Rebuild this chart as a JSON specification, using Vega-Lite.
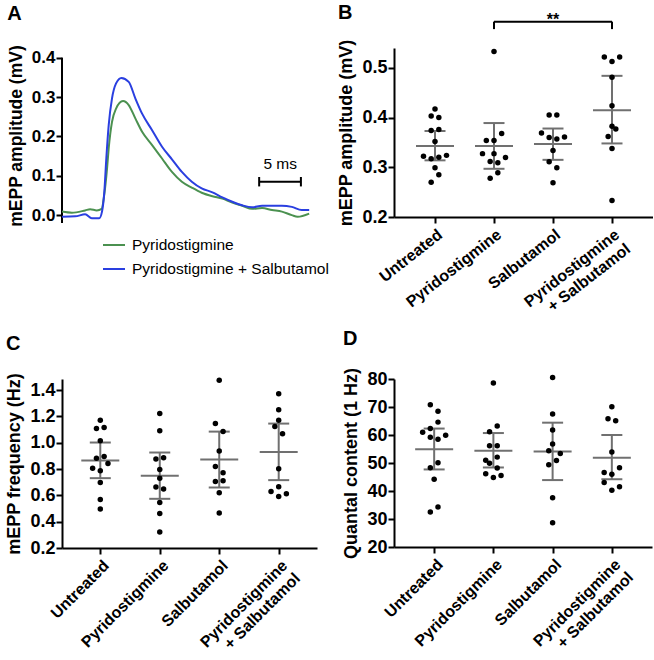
{
  "$schema": "https://vega.github.io/schema/vega-lite/v6.json",
  "padding": {"left": 5, "top": 2, "right": 0, "bottom": 0},
  "config": {
    "font": "Liberation Sans",
    "view": {"stroke": null},
    "axis": {"labelFont": "Liberation Sans", "labelFontWeight": "bold", "labelFontSize": 18, "labelColor": "black", "labelOverlap": false, "titleFont": "Liberation Sans", "titleFontWeight": "bold", "titleFontSize": 18, "titleColor": "black", "domainColor": "black", "domainWidth": 2, "tickColor": "black", "tickWidth": 2, "tickSize": 6, "grid": false, "labelPadding": 1, "titlePadding": 6},
    "title": {"fontSize": 20, "fontWeight": "bold", "anchor": "start", "frame": "bounds", "color": "black", "font": "Liberation Sans"}
  },
  "datasets": {
    "trace": [
      {"series": "Pyridostigmine", "t": 0, "v": 0.009}, {"series": "Pyridostigmine", "t": 1.2, "v": 0.006}, {"series": "Pyridostigmine", "t": 2.8, "v": 0.012}, {"series": "Pyridostigmine", "t": 3.4, "v": 0.015}, {"series": "Pyridostigmine", "t": 4.2, "v": 0.012}, {"series": "Pyridostigmine", "t": 4.8, "v": 0.016}, {"series": "Pyridostigmine", "t": 5.1, "v": 0.05}, {"series": "Pyridostigmine", "t": 5.45, "v": 0.119}, {"series": "Pyridostigmine", "t": 5.65, "v": 0.17}, {"series": "Pyridostigmine", "t": 6.05, "v": 0.237}, {"series": "Pyridostigmine", "t": 6.54, "v": 0.271}, {"series": "Pyridostigmine", "t": 7.38, "v": 0.29}, {"series": "Pyridostigmine", "t": 8.07, "v": 0.28}, {"series": "Pyridostigmine", "t": 8.87, "v": 0.246}, {"series": "Pyridostigmine", "t": 9.69, "v": 0.212}, {"series": "Pyridostigmine", "t": 10.9, "v": 0.178}, {"series": "Pyridostigmine", "t": 12.1, "v": 0.144}, {"series": "Pyridostigmine", "t": 13.3, "v": 0.11}, {"series": "Pyridostigmine", "t": 14.5, "v": 0.085}, {"series": "Pyridostigmine", "t": 15.7, "v": 0.07}, {"series": "Pyridostigmine", "t": 16.9, "v": 0.057}, {"series": "Pyridostigmine", "t": 18.2, "v": 0.048}, {"series": "Pyridostigmine", "t": 19.4, "v": 0.042}, {"series": "Pyridostigmine", "t": 20.6, "v": 0.032}, {"series": "Pyridostigmine", "t": 21.8, "v": 0.024}, {"series": "Pyridostigmine", "t": 23.0, "v": 0.016}, {"series": "Pyridostigmine", "t": 24.2, "v": 0.018}, {"series": "Pyridostigmine", "t": 25.4, "v": 0.013}, {"series": "Pyridostigmine", "t": 26.6, "v": 0.009}, {"series": "Pyridostigmine", "t": 27.8, "v": 0.0}, {"series": "Pyridostigmine", "t": 28.5, "v": -0.004}, {"series": "Pyridostigmine", "t": 29.9, "v": 0.004},
      {"series": "Pyridostigmine + Salbutamol", "t": 0, "v": -0.004}, {"series": "Pyridostigmine + Salbutamol", "t": 1.6, "v": -0.003}, {"series": "Pyridostigmine + Salbutamol", "t": 2.8, "v": 0.002}, {"series": "Pyridostigmine + Salbutamol", "t": 3.6, "v": -0.008}, {"series": "Pyridostigmine + Salbutamol", "t": 4.5, "v": -0.008}, {"series": "Pyridostigmine + Salbutamol", "t": 4.84, "v": 0.009}, {"series": "Pyridostigmine + Salbutamol", "t": 5.12, "v": 0.059}, {"series": "Pyridostigmine + Salbutamol", "t": 5.36, "v": 0.144}, {"series": "Pyridostigmine + Salbutamol", "t": 5.65, "v": 0.229}, {"series": "Pyridostigmine + Salbutamol", "t": 6.05, "v": 0.297}, {"series": "Pyridostigmine + Salbutamol", "t": 6.54, "v": 0.335}, {"series": "Pyridostigmine + Salbutamol", "t": 7.18, "v": 0.349}, {"series": "Pyridostigmine + Salbutamol", "t": 8.07, "v": 0.339}, {"series": "Pyridostigmine + Salbutamol", "t": 8.87, "v": 0.297}, {"series": "Pyridostigmine + Salbutamol", "t": 9.69, "v": 0.258}, {"series": "Pyridostigmine + Salbutamol", "t": 10.9, "v": 0.216}, {"series": "Pyridostigmine + Salbutamol", "t": 12.1, "v": 0.174}, {"series": "Pyridostigmine + Salbutamol", "t": 13.3, "v": 0.142}, {"series": "Pyridostigmine + Salbutamol", "t": 14.5, "v": 0.11}, {"series": "Pyridostigmine + Salbutamol", "t": 15.7, "v": 0.085}, {"series": "Pyridostigmine + Salbutamol", "t": 16.9, "v": 0.068}, {"series": "Pyridostigmine + Salbutamol", "t": 18.2, "v": 0.058}, {"series": "Pyridostigmine + Salbutamol", "t": 19.4, "v": 0.045}, {"series": "Pyridostigmine + Salbutamol", "t": 20.6, "v": 0.034}, {"series": "Pyridostigmine + Salbutamol", "t": 21.8, "v": 0.025}, {"series": "Pyridostigmine + Salbutamol", "t": 23.0, "v": 0.02}, {"series": "Pyridostigmine + Salbutamol", "t": 24.2, "v": 0.024}, {"series": "Pyridostigmine + Salbutamol", "t": 25.4, "v": 0.024}, {"series": "Pyridostigmine + Salbutamol", "t": 26.6, "v": 0.024}, {"series": "Pyridostigmine + Salbutamol", "t": 27.8, "v": 0.021}, {"series": "Pyridostigmine + Salbutamol", "t": 29.0, "v": 0.013}, {"series": "Pyridostigmine + Salbutamol", "t": 29.9, "v": 0.013}
    ],
    "aaxis": [{"t": 0, "lo": -0.02, "hi": 0.4}],
    "scalebar": [{"t1": 23.85, "t2": 28.9, "tm": 26.4, "v": 0.085, "vlo": 0.073, "vhi": 0.097, "vt": 0.131, "label": "5 ms"}],
    "sig": [{"from": "Pyridostigmine", "to": "Pyridostigmine + Salbutamol", "mid": "Salbutamol", "y": 0.593, "y2": 0.578, "ty": 0.587, "label": "**"}],
    "ptsB": [
      {"group": "Untreated", "slot": 0, "value": 0.4175}, {"group": "Untreated", "slot": -0.5, "value": 0.403}, {"group": "Untreated", "slot": 0.5, "value": 0.4}, {"group": "Untreated", "slot": -0.5, "value": 0.374}, {"group": "Untreated", "slot": 0.5, "value": 0.376}, {"group": "Untreated", "slot": 0, "value": 0.352}, {"group": "Untreated", "slot": -1.5, "value": 0.322}, {"group": "Untreated", "slot": -0.5, "value": 0.317}, {"group": "Untreated", "slot": 0.5, "value": 0.32}, {"group": "Untreated", "slot": 1.5, "value": 0.324}, {"group": "Untreated", "slot": 0, "value": 0.299}, {"group": "Untreated", "slot": 0.5, "value": 0.285}, {"group": "Untreated", "slot": -0.5, "value": 0.27},
      {"group": "Pyridostigmine", "slot": 0, "value": 0.533}, {"group": "Pyridostigmine", "slot": 1, "value": 0.368}, {"group": "Pyridostigmine", "slot": -1, "value": 0.354}, {"group": "Pyridostigmine", "slot": 0, "value": 0.354}, {"group": "Pyridostigmine", "slot": -1.5, "value": 0.3275}, {"group": "Pyridostigmine", "slot": 0, "value": 0.3275}, {"group": "Pyridostigmine", "slot": 1.5, "value": 0.3195}, {"group": "Pyridostigmine", "slot": -0.5, "value": 0.3115}, {"group": "Pyridostigmine", "slot": 0.5, "value": 0.309}, {"group": "Pyridostigmine", "slot": 0.5, "value": 0.289}, {"group": "Pyridostigmine", "slot": -0.5, "value": 0.278},
      {"group": "Salbutamol", "slot": -0.5, "value": 0.405}, {"group": "Salbutamol", "slot": 0.5, "value": 0.405}, {"group": "Salbutamol", "slot": -1.5, "value": 0.369}, {"group": "Salbutamol", "slot": -0.5, "value": 0.36}, {"group": "Salbutamol", "slot": 0.5, "value": 0.357}, {"group": "Salbutamol", "slot": 1.5, "value": 0.361}, {"group": "Salbutamol", "slot": 0, "value": 0.334}, {"group": "Salbutamol", "slot": -0.5, "value": 0.311}, {"group": "Salbutamol", "slot": 0.5, "value": 0.299}, {"group": "Salbutamol", "slot": 0, "value": 0.269},
      {"group": "Pyridostigmine + Salbutamol", "slot": -1, "value": 0.522}, {"group": "Pyridostigmine + Salbutamol", "slot": 1, "value": 0.522}, {"group": "Pyridostigmine + Salbutamol", "slot": 0, "value": 0.513}, {"group": "Pyridostigmine + Salbutamol", "slot": 0, "value": 0.481}, {"group": "Pyridostigmine + Salbutamol", "slot": 0, "value": 0.424}, {"group": "Pyridostigmine + Salbutamol", "slot": 0, "value": 0.3825}, {"group": "Pyridostigmine + Salbutamol", "slot": 0.5, "value": 0.377}, {"group": "Pyridostigmine + Salbutamol", "slot": -0.5, "value": 0.362}, {"group": "Pyridostigmine + Salbutamol", "slot": 0, "value": 0.338}, {"group": "Pyridostigmine + Salbutamol", "slot": 0, "value": 0.233}
    ],
    "sumB": [
      {"group": "Untreated", "mean": 0.343, "lo": 0.314, "hi": 0.373},
      {"group": "Pyridostigmine", "mean": 0.343, "lo": 0.297, "hi": 0.389},
      {"group": "Salbutamol", "mean": 0.347, "lo": 0.315, "hi": 0.378},
      {"group": "Pyridostigmine + Salbutamol", "mean": 0.415, "lo": 0.348, "hi": 0.484}
    ],
    "ptsC": [
      {"group": "Untreated", "slot": 0, "value": 1.172}, {"group": "Untreated", "slot": -0.5, "value": 1.108}, {"group": "Untreated", "slot": 0.5, "value": 1.116}, {"group": "Untreated", "slot": 0, "value": 1.015}, {"group": "Untreated", "slot": -0.5, "value": 0.883}, {"group": "Untreated", "slot": 0.5, "value": 0.896}, {"group": "Untreated", "slot": 1, "value": 0.842}, {"group": "Untreated", "slot": -1, "value": 0.807}, {"group": "Untreated", "slot": 0, "value": 0.787}, {"group": "Untreated", "slot": 0, "value": 0.698}, {"group": "Untreated", "slot": 0, "value": 0.569}, {"group": "Untreated", "slot": 0, "value": 0.496},
      {"group": "Pyridostigmine", "slot": 0, "value": 1.222}, {"group": "Pyridostigmine", "slot": 0, "value": 1.091}, {"group": "Pyridostigmine", "slot": -0.5, "value": 0.876}, {"group": "Pyridostigmine", "slot": 0.5, "value": 0.886}, {"group": "Pyridostigmine", "slot": 0, "value": 0.797}, {"group": "Pyridostigmine", "slot": 0, "value": 0.731}, {"group": "Pyridostigmine", "slot": -0.5, "value": 0.663}, {"group": "Pyridostigmine", "slot": 0.5, "value": 0.648}, {"group": "Pyridostigmine", "slot": 0, "value": 0.546}, {"group": "Pyridostigmine", "slot": 0, "value": 0.463}, {"group": "Pyridostigmine", "slot": 0, "value": 0.321},
      {"group": "Salbutamol", "slot": 0, "value": 1.476}, {"group": "Salbutamol", "slot": -0.5, "value": 1.146}, {"group": "Salbutamol", "slot": 0.5, "value": 1.085}, {"group": "Salbutamol", "slot": 0, "value": 0.937}, {"group": "Salbutamol", "slot": -0.5, "value": 0.82}, {"group": "Salbutamol", "slot": 0.5, "value": 0.772}, {"group": "Salbutamol", "slot": -0.5, "value": 0.706}, {"group": "Salbutamol", "slot": 0.5, "value": 0.711}, {"group": "Salbutamol", "slot": 0, "value": 0.62}, {"group": "Salbutamol", "slot": 0, "value": 0.466},
      {"group": "Pyridostigmine + Salbutamol", "slot": 0, "value": 1.372}, {"group": "Pyridostigmine + Salbutamol", "slot": 0, "value": 1.252}, {"group": "Pyridostigmine + Salbutamol", "slot": 0, "value": 1.172}, {"group": "Pyridostigmine + Salbutamol", "slot": -0.5, "value": 1.123}, {"group": "Pyridostigmine + Salbutamol", "slot": 0.5, "value": 1.068}, {"group": "Pyridostigmine + Salbutamol", "slot": 0, "value": 0.802}, {"group": "Pyridostigmine + Salbutamol", "slot": 0, "value": 0.665}, {"group": "Pyridostigmine + Salbutamol", "slot": -1, "value": 0.63}, {"group": "Pyridostigmine + Salbutamol", "slot": 0, "value": 0.592}, {"group": "Pyridostigmine + Salbutamol", "slot": 1, "value": 0.612}
    ],
    "sumC": [
      {"group": "Untreated", "mean": 0.865, "lo": 0.731, "hi": 1.002},
      {"group": "Pyridostigmine", "mean": 0.749, "lo": 0.574, "hi": 0.926},
      {"group": "Salbutamol", "mean": 0.873, "lo": 0.66, "hi": 1.085},
      {"group": "Pyridostigmine + Salbutamol", "mean": 0.929, "lo": 0.716, "hi": 1.146}
    ],
    "ptsD": [
      {"group": "Untreated", "slot": -0.5, "value": 70.8}, {"group": "Untreated", "slot": 0.5, "value": 68.5}, {"group": "Untreated", "slot": 0.5, "value": 64.6}, {"group": "Untreated", "slot": -0.5, "value": 62.3}, {"group": "Untreated", "slot": -1.5, "value": 61.0}, {"group": "Untreated", "slot": -0.5, "value": 59.2}, {"group": "Untreated", "slot": 0.5, "value": 58.5}, {"group": "Untreated", "slot": 1.5, "value": 59.9}, {"group": "Untreated", "slot": 0.5, "value": 50.1}, {"group": "Untreated", "slot": -0.5, "value": 48.3}, {"group": "Untreated", "slot": 0, "value": 44.2}, {"group": "Untreated", "slot": 0.5, "value": 34.3}, {"group": "Untreated", "slot": -0.5, "value": 32.5},
      {"group": "Pyridostigmine", "slot": 0, "value": 78.6}, {"group": "Pyridostigmine", "slot": 0.5, "value": 63.2}, {"group": "Pyridostigmine", "slot": -0.5, "value": 61.2}, {"group": "Pyridostigmine", "slot": -0.5, "value": 56.2}, {"group": "Pyridostigmine", "slot": 0.5, "value": 56.2}, {"group": "Pyridostigmine", "slot": 0.5, "value": 52.1}, {"group": "Pyridostigmine", "slot": -1, "value": 51.0}, {"group": "Pyridostigmine", "slot": -0.5, "value": 49.9}, {"group": "Pyridostigmine", "slot": 0.5, "value": 48.2}, {"group": "Pyridostigmine", "slot": -1, "value": 46.2}, {"group": "Pyridostigmine", "slot": 1, "value": 45.5}, {"group": "Pyridostigmine", "slot": 0, "value": 44.8},
      {"group": "Salbutamol", "slot": 0, "value": 80.5}, {"group": "Salbutamol", "slot": 0, "value": 67.5}, {"group": "Salbutamol", "slot": 0, "value": 61.8}, {"group": "Salbutamol", "slot": 0, "value": 56.8}, {"group": "Salbutamol", "slot": -0.5, "value": 54.4}, {"group": "Salbutamol", "slot": 1, "value": 53.4}, {"group": "Salbutamol", "slot": 0.5, "value": 50.9}, {"group": "Salbutamol", "slot": -0.5, "value": 49.4}, {"group": "Salbutamol", "slot": 0, "value": 37.6}, {"group": "Salbutamol", "slot": 0, "value": 28.7},
      {"group": "Pyridostigmine + Salbutamol", "slot": 0, "value": 70.1}, {"group": "Pyridostigmine + Salbutamol", "slot": -0.5, "value": 65.8}, {"group": "Pyridostigmine + Salbutamol", "slot": 0.5, "value": 65.1}, {"group": "Pyridostigmine + Salbutamol", "slot": 0, "value": 53.9}, {"group": "Pyridostigmine + Salbutamol", "slot": 1, "value": 48.3}, {"group": "Pyridostigmine + Salbutamol", "slot": -1, "value": 46.6}, {"group": "Pyridostigmine + Salbutamol", "slot": 0, "value": 46.0}, {"group": "Pyridostigmine + Salbutamol", "slot": -1, "value": 43.0}, {"group": "Pyridostigmine + Salbutamol", "slot": 1, "value": 41.5}, {"group": "Pyridostigmine + Salbutamol", "slot": 0, "value": 40.3}
    ],
    "sumD": [
      {"group": "Untreated", "mean": 54.9, "lo": 47.7, "hi": 62.3},
      {"group": "Pyridostigmine", "mean": 54.4, "lo": 48.4, "hi": 60.7},
      {"group": "Salbutamol", "mean": 54.1, "lo": 43.9, "hi": 64.4},
      {"group": "Pyridostigmine + Salbutamol", "mean": 51.9, "lo": 44.2, "hi": 60.0}
    ]
  },
  "spacing": 5,
  "vconcat": [
    {
      "spacing": 23,
      "hconcat": [
        {
          "title": {"text": "A", "offset": 21},
          "width": 248,
          "height": 175,
          "layer": [
            {
              "data": {"name": "aaxis"},
              "mark": {"type": "rule", "strokeWidth": 2, "color": "black"},
              "encoding": {
                "x": {"field": "t", "type": "quantitative", "scale": {"domain": [0, 30], "nice": false}, "axis": null},
                "y": {"field": "lo", "type": "quantitative", "scale": {"domain": [-0.02, 0.425], "nice": false, "zero": false}, "axis": {"values": [0, 0.1, 0.2, 0.3, 0.4], "tickCount": 12, "format": ".1f", "domain": false, "title": "mEPP amplitude (mV)", "labelFontSize": 17, "titleFontSize": 17.5}},
                "y2": {"field": "hi"}
              }
            },
            {
              "data": {"name": "trace"},
              "mark": {"type": "line", "strokeWidth": 2, "interpolate": "monotone"},
              "encoding": {
                "x": {"field": "t", "type": "quantitative"},
                "y": {"field": "v", "type": "quantitative"},
                "color": {"field": "series", "type": "nominal", "scale": {"domain": ["Pyridostigmine", "Pyridostigmine + Salbutamol"], "range": ["#4b9150", "#2a3fe0"]},
                  "legend": {"orient": "none", "legendX": 40, "legendY": 185, "title": null, "symbolType": "stroke", "symbolSize": 484, "symbolStrokeWidth": 2, "labelFontSize": 15.5, "labelFont": "Liberation Sans", "labelColor": "black", "labelLimit": 300, "rowPadding": 3, "padding": 0, "labelOffset": 6}}
              }
            },
            {
              "data": {"name": "scalebar"},
              "mark": {"type": "rule", "strokeWidth": 2, "color": "black"},
              "encoding": {"x": {"field": "t1", "type": "quantitative"}, "x2": {"field": "t2"}, "y": {"field": "v", "type": "quantitative"}}
            },
            {
              "data": {"name": "scalebar"},
              "mark": {"type": "rule", "strokeWidth": 2, "color": "black"},
              "encoding": {"x": {"field": "t1", "type": "quantitative"}, "y": {"field": "vlo", "type": "quantitative"}, "y2": {"field": "vhi"}}
            },
            {
              "data": {"name": "scalebar"},
              "mark": {"type": "rule", "strokeWidth": 2, "color": "black"},
              "encoding": {"x": {"field": "t2", "type": "quantitative"}, "y": {"field": "vlo", "type": "quantitative"}, "y2": {"field": "vhi"}}
            },
            {
              "data": {"name": "scalebar"},
              "mark": {"type": "text", "fontSize": 15.5, "font": "Liberation Sans", "color": "black", "baseline": "middle"},
              "encoding": {"x": {"field": "tm", "type": "quantitative"}, "y": {"field": "vt", "type": "quantitative"}, "text": {"field": "label"}}
            }
          ]
        },
        {
          "title": {"text": "B", "dy": 15},
          "width": 259,
          "height": 169,
          "layer": [
            {
              "data": {"name": "sumB"},
              "mark": {"type": "rule", "strokeWidth": 2, "color": "#707070"},
              "encoding": {
                "x": {"field": "group", "type": "nominal", "scale": {"type": "point", "padding": 0.695, "domain": ["Untreated", "Pyridostigmine", "Salbutamol", "Pyridostigmine + Salbutamol"]}, "axis": {"title": null, "labelAngle": -38, "labelFontSize": 16, "labelPadding": 3, "labelExpr": "datum.label == 'Pyridostigmine + Salbutamol' ? ['Pyridostigmine', '+ Salbutamol'] : datum.label"}},
                "y": {"field": "lo", "type": "quantitative", "scale": {"domain": [0.2, 0.54], "nice": false, "zero": false}, "axis": {"values": [0.2, 0.3, 0.4, 0.5], "tickCount": 12, "format": ".1f", "title": "mEPP amplitude (mV)"}},
                "y2": {"field": "hi"}
              }
            },
            {
              "data": {"name": "sumB"},
              "mark": {"type": "tick", "orient": "horizontal", "size": 38, "thickness": 2, "color": "#707070", "opacity": 1},
              "encoding": {"x": {"field": "group", "type": "nominal"}, "y": {"field": "mean", "type": "quantitative"}}
            },
            {
              "data": {"name": "sumB"},
              "mark": {"type": "tick", "orient": "horizontal", "size": 21, "thickness": 2, "color": "#707070", "opacity": 1},
              "encoding": {"x": {"field": "group", "type": "nominal"}, "y": {"field": "hi", "type": "quantitative"}}
            },
            {
              "data": {"name": "sumB"},
              "mark": {"type": "tick", "orient": "horizontal", "size": 21, "thickness": 2, "color": "#707070", "opacity": 1},
              "encoding": {"x": {"field": "group", "type": "nominal"}, "y": {"field": "lo", "type": "quantitative"}}
            },
            {
              "data": {"name": "ptsB"},
              "mark": {"type": "circle", "size": 30, "color": "black", "opacity": 1},
              "encoding": {"x": {"field": "group", "type": "nominal"}, "xOffset": {"field": "slot", "type": "quantitative", "scale": {"domain": [-1, 1], "range": [-7.67, 7.67]}}, "y": {"field": "value", "type": "quantitative"}}
            },
            {
              "data": {"name": "sig"},
              "mark": {"type": "rule", "strokeWidth": 2, "color": "black"},
              "encoding": {"x": {"field": "from", "type": "nominal"}, "x2": {"field": "to"}, "y": {"field": "y", "type": "quantitative"}}
            },
            {
              "data": {"name": "sig"},
              "mark": {"type": "rule", "strokeWidth": 2, "color": "black"},
              "encoding": {"x": {"field": "from", "type": "nominal"}, "y": {"field": "y", "type": "quantitative"}, "y2": {"field": "y2"}}
            },
            {
              "data": {"name": "sig"},
              "mark": {"type": "rule", "strokeWidth": 2, "color": "black"},
              "encoding": {"x": {"field": "to", "type": "nominal"}, "y": {"field": "y", "type": "quantitative"}, "y2": {"field": "y2"}}
            },
            {
              "data": {"name": "sig"},
              "mark": {"type": "text", "fontSize": 16, "fontWeight": "bold", "font": "Liberation Sans", "color": "black", "baseline": "alphabetic"},
              "encoding": {"x": {"field": "mid", "type": "nominal"}, "y": {"field": "ty", "type": "quantitative"}, "text": {"field": "label"}}
            }
          ]
        }
      ]
    },
    {
      "spacing": 25,
      "hconcat": [
        {
          "title": {"text": "C", "offset": 18},
          "width": 255,
          "height": 169,
          "layer": [
            {
              "data": {"name": "sumC"},
              "mark": {"type": "rule", "strokeWidth": 2, "color": "#707070"},
              "encoding": {
                "x": {"field": "group", "type": "nominal", "scale": {"type": "point", "padding": 0.644, "domain": ["Untreated", "Pyridostigmine", "Salbutamol", "Pyridostigmine + Salbutamol"]}, "axis": {"title": null, "labelAngle": -45, "labelFontSize": 16, "labelPadding": 3, "labelExpr": "datum.label == 'Pyridostigmine + Salbutamol' ? ['Pyridostigmine', '+ Salbutamol'] : datum.label"}},
                "y": {"field": "lo", "type": "quantitative", "scale": {"domain": [0.2, 1.485], "nice": false, "zero": false}, "axis": {"values": [0.2, 0.4, 0.6, 0.8, 1.0, 1.2, 1.4], "tickCount": 12, "format": ".1f", "title": "mEPP frequency (Hz)"}},
                "y2": {"field": "hi"}
              }
            },
            {
              "data": {"name": "sumC"},
              "mark": {"type": "tick", "orient": "horizontal", "size": 38, "thickness": 2, "color": "#707070", "opacity": 1},
              "encoding": {"x": {"field": "group", "type": "nominal"}, "y": {"field": "mean", "type": "quantitative"}}
            },
            {
              "data": {"name": "sumC"},
              "mark": {"type": "tick", "orient": "horizontal", "size": 21, "thickness": 2, "color": "#707070", "opacity": 1},
              "encoding": {"x": {"field": "group", "type": "nominal"}, "y": {"field": "hi", "type": "quantitative"}}
            },
            {
              "data": {"name": "sumC"},
              "mark": {"type": "tick", "orient": "horizontal", "size": 21, "thickness": 2, "color": "#707070", "opacity": 1},
              "encoding": {"x": {"field": "group", "type": "nominal"}, "y": {"field": "lo", "type": "quantitative"}}
            },
            {
              "data": {"name": "ptsC"},
              "mark": {"type": "circle", "size": 30, "color": "black", "opacity": 1},
              "encoding": {"x": {"field": "group", "type": "nominal"}, "xOffset": {"field": "slot", "type": "quantitative", "scale": {"domain": [-1, 1], "range": [-7.67, 7.67]}}, "y": {"field": "value", "type": "quantitative"}}
            }
          ]
        },
        {
          "title": {"text": "D", "offset": 18},
          "width": 258,
          "height": 168,
          "layer": [
            {
              "data": {"name": "sumD"},
              "mark": {"type": "rule", "strokeWidth": 2, "color": "#707070"},
              "encoding": {
                "x": {"field": "group", "type": "nominal", "scale": {"type": "point", "padding": 0.678, "domain": ["Untreated", "Pyridostigmine", "Salbutamol", "Pyridostigmine + Salbutamol"]}, "axis": {"title": null, "labelAngle": -45, "labelFontSize": 16, "labelPadding": 3, "labelExpr": "datum.label == 'Pyridostigmine + Salbutamol' ? ['Pyridostigmine', '+ Salbutamol'] : datum.label"}},
                "y": {"field": "lo", "type": "quantitative", "scale": {"domain": [20, 80], "nice": false, "zero": false}, "axis": {"values": [20, 30, 40, 50, 60, 70, 80], "tickCount": 12, "format": "d", "title": "Quantal content (1 Hz)"}},
                "y2": {"field": "hi"}
              }
            },
            {
              "data": {"name": "sumD"},
              "mark": {"type": "tick", "orient": "horizontal", "size": 38, "thickness": 2, "color": "#707070", "opacity": 1},
              "encoding": {"x": {"field": "group", "type": "nominal"}, "y": {"field": "mean", "type": "quantitative"}}
            },
            {
              "data": {"name": "sumD"},
              "mark": {"type": "tick", "orient": "horizontal", "size": 21, "thickness": 2, "color": "#707070", "opacity": 1},
              "encoding": {"x": {"field": "group", "type": "nominal"}, "y": {"field": "hi", "type": "quantitative"}}
            },
            {
              "data": {"name": "sumD"},
              "mark": {"type": "tick", "orient": "horizontal", "size": 21, "thickness": 2, "color": "#707070", "opacity": 1},
              "encoding": {"x": {"field": "group", "type": "nominal"}, "y": {"field": "lo", "type": "quantitative"}}
            },
            {
              "data": {"name": "ptsD"},
              "mark": {"type": "circle", "size": 30, "color": "black", "opacity": 1},
              "encoding": {"x": {"field": "group", "type": "nominal"}, "xOffset": {"field": "slot", "type": "quantitative", "scale": {"domain": [-1, 1], "range": [-7.67, 7.67]}}, "y": {"field": "value", "type": "quantitative"}}
            }
          ]
        }
      ]
    }
  ]
}
